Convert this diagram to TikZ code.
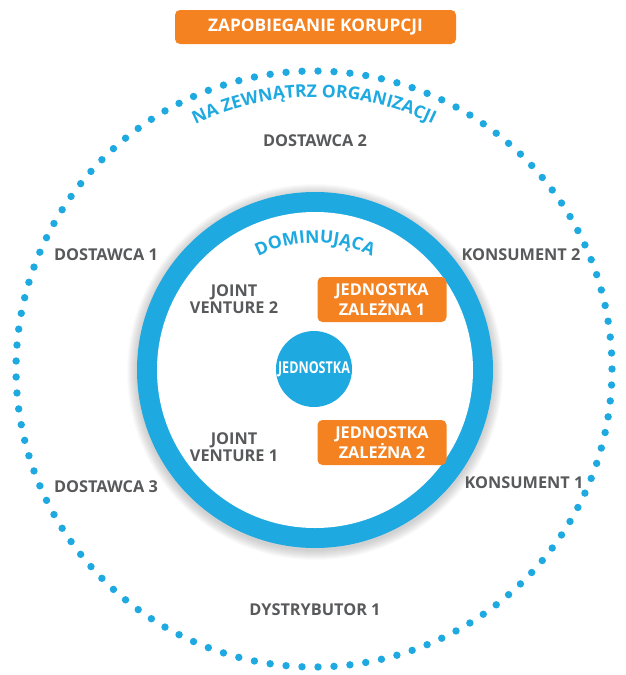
\documentclass[tikz,border=0pt]{standalone}
\usepackage{fontspec}
\setmainfont{Open Sans}
\usetikzlibrary{decorations.text}
\definecolor{ringblue}{HTML}{1FA9E1}
\definecolor{corange}{HTML}{F58220}
\definecolor{cgray}{HTML}{58595B}
\begin{document}
\begin{tikzpicture}[x=1pt,y=-1pt,
  lbl/.style={font=\fontsize{16.3}{17.5}\selectfont\bfseries, text=cgray, align=center, inner sep=0pt},
  obox/.style={fill=corange, rounded corners=5pt, text=white, align=center, inner sep=0pt,
    font=\fontsize{16.3}{17.5}\selectfont\bfseries, minimum width=129pt, minimum height=45pt},
  dotc/.style={fill=ringblue}]
\useasboundingbox (0,0) rectangle (625,675);
% outer dotted circle
\foreach \i in {0,...,116}
  \fill[dotc] (314,369) ++({\i*3.076923}:298) circle (3.7);
% ring shadow
\foreach \i in {1,...,10}
  \fill[black, opacity=0.02] (315,372) circle (178+\i);
% ring
\fill[ringblue] (315,370) circle (178);
\fill[white] (315,370) circle (158);
% curved labels
\path[decorate, decoration={text along path, text align=center,
  text={|\fontsize{17.5}{17.5}\selectfont\bfseries\color{ringblue}|NA ZEWNĄTRZ ORGANIZACJI}}]
  (314,369) ++(180:272) arc[start angle=180, end angle=360, radius=272];
\path[decorate, decoration={text along path, text align=center,
  text={|\fontsize{17.5}{17.5}\selectfont\bfseries\color{ringblue}|DOMINUJĄCA}}]
  (315,370) ++(180:127) arc[start angle=180, end angle=360, radius=127];
% title
\node[obox, minimum width=281pt, minimum height=34pt, font=\fontsize{17.3}{18}\selectfont\bfseries] (title) at (315.5,27) {ZAPOBIEGANIE KORUPCJI};
% outside labels
\node[lbl] (d2) at (315,141) {DOSTAWCA 2};
\node[lbl] (d1) at (106,255) {DOSTAWCA 1};
\node[lbl] (k2) at (521,255) {KONSUMENT 2};
\node[lbl] (d3) at (106,487) {DOSTAWCA 3};
\node[lbl] (k1) at (524,483) {KONSUMENT 1};
\node[lbl] (dy) at (315,610) {DYSTRYBUTOR 1};
% inside labels
\node[lbl] (jv2) at (234,299) {JOINT\\VENTURE 2};
\node[lbl] (jv1) at (234,447) {JOINT\\VENTURE 1};
\node[obox] (z1) at (382,299.5) {JEDNOSTKA\\ZALEŻNA 1};
\node[obox] (z2) at (382,442.5) {JEDNOSTKA\\ZALEŻNA 2};
% center
\node[circle, fill=ringblue, minimum size=76pt, inner sep=0pt, text=white,
  font=\fontsize{16.3}{17}\selectfont\bfseries] (jed) at (314,369) {\scalebox{0.77}[1]{JEDNOSTKA}};
\end{tikzpicture}
\end{document}
